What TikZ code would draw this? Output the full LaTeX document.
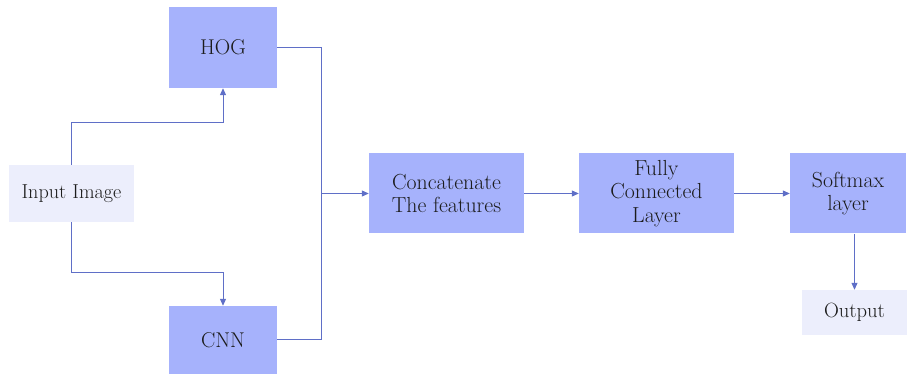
\documentclass[tikz,border=0pt]{standalone}
\usepackage{fontspec}
\usepackage{tikz}
\usetikzlibrary{arrows.meta,positioning,calc}

\definecolor{blockblue}{HTML}{A6B2FC}
\definecolor{paleblue}{HTML}{ECEEFC}
\definecolor{wireblue}{HTML}{5F6FC7}
\definecolor{inkgray}{HTML}{1C1C1C}

\begin{document}
\begin{tikzpicture}[x=1pt,y=1pt,
    block/.style={fill=blockblue, text=inkgray, align=center, inner sep=0pt,
        font=\fontsize{21.8}{23.5}\selectfont},
    plain/.style={block, fill=paleblue},
    link/.style={draw=wireblue, line width=1pt},
    arr/.style={link, -{Triangle[length=7pt,width=6pt]}}]
    \useasboundingbox (0,0) rectangle (907,374);

    % feature extractors
    \node[block, font=\fontsize{21.4}{23.5}\selectfont, minimum width=108pt, minimum height=81pt] (hog) at (223,326.5) {HOG};
    \node[block, font=\fontsize{21.4}{23.5}\selectfont, minimum width=108pt, minimum height=68pt] (cnn) at (223,34) {CNN};
    \node[plain, font=\fontsize{20.2}{23.5}\selectfont, minimum width=125pt, minimum height=57pt] (inp) at (71.5,180.5) {Input Image};

    % classification chain
    \node[block, minimum width=155pt, minimum height=80pt] (cat) at (446.5,180.5) {Concatenate\\The features};
    \node[block, minimum width=155pt, minimum height=80pt] (fc) at (656.5,180.5) {Fully\\Connected\\Layer};
    \node[block, minimum width=116pt, minimum height=80pt] (smx) at (848,180.5) {Softmax\\layer};
    \node[plain, font=\fontsize{20.6}{23.5}\selectfont, minimum width=105pt, minimum height=45pt] (out) at (854.5,61.5) {Output};

    \coordinate (merge) at (321.5,180.5);

    \draw[arr] (inp.north) -- ++(0,42) -| (hog.south);
    \draw[arr] (inp.south) -- ++(0,-50) -| (cnn.north);
    \draw[link] (hog.east) -| (merge) |- (cnn.east);
    \draw[arr] (merge) -- (cat.west);
    \draw[arr] (cat.east) -- (fc.west);
    \draw[arr] (fc.east) -- (smx.west);
    \draw[arr] (out.north |- smx.south) -- (out.north);
\end{tikzpicture}
\end{document}
